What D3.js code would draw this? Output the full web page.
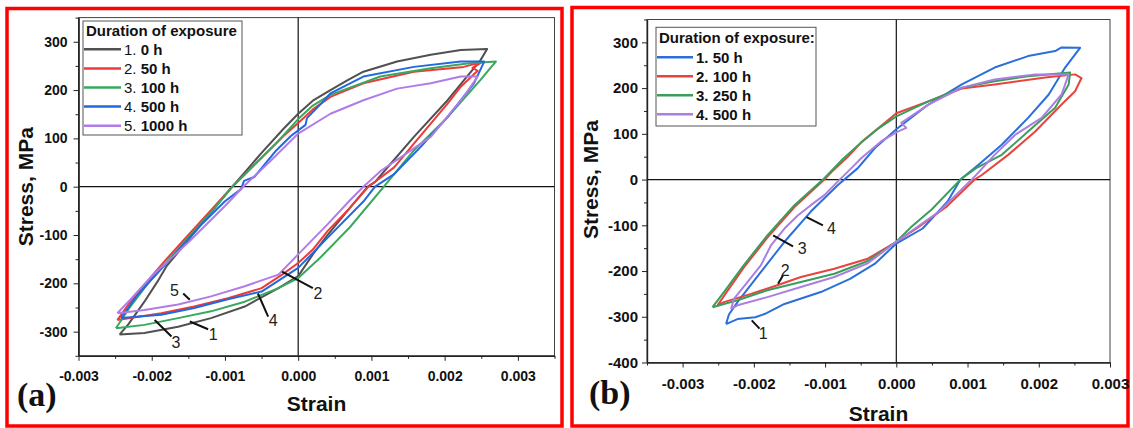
<!DOCTYPE html>
<html>
<head>
<meta charset="utf-8">
<script src="https://cdn.jsdelivr.net/npm/d3@7"></script>
<style>
  body { margin: 0; background: #fff; }
  text { font-family: "Liberation Sans", Arial, sans-serif; }
</style>
</head>
<body>
<svg id="chart" width="1133" height="428"></svg>
<script>
// Cyclic stress-strain hysteresis loops, two panels (a) and (b)

// ---- ticks ----
const xTicks = [-0.003, -0.002, -0.001, 0, 0.001, 0.002, 0.003];
const xMinorA = [-0.0025, -0.0015, -0.0005, 0.0005, 0.0015, 0.0025, 0.0035];
const xMinorB = [-0.0035, -0.0025, -0.0015, -0.0005, 0.0005, 0.0015, 0.0025];
const yTicksA = [-300, -200, -100, 0, 100, 200, 300];
const yMinorA = [-350, -250, -150, -50, 50, 150, 250, 350];
const yTicksB = [-400, -300, -200, -100, 0, 100, 200, 300];
const yMinorB = [-350, -250, -150, -50, 50, 150, 250, 350];

// ---- legend labels ----
const namesA = ["0 h", "50 h", "100 h", "500 h", "1000 h"];
const namesB = ["50 h", "100 h", "250 h", "500 h"];

// ---- panel (a) loops: [strain, stress MPa] ----
const loopA0 = [[-0.00244,-306],[-0.00232,-285],[-0.0021,-238],[-0.00192,-196],[-0.0018,-165],[-0.0015,-110],
  [-0.0012,-55],[-0.0009,0],[-0.0007,35],[-0.0005,70],[-0.0002,120],[0,151],[0.0002,178],[0.00044,200],
  [0.00067,220],[0.00089,238],[0.00135,259],[0.00181,273],[0.00222,283],[0.00258,285],[0.00249,262],
  [0.00204,179],[0.00158,103],[0.00126,47],[0.00105,10],[0.00095,0],[0.0007,-45],[0.0004,-100],
  [0.0002,-140],[0,-185],[-0.00027,-210],[-0.00073,-248],[-0.00119,-272],[-0.00164,-290],[-0.0021,-303],[-0.00244,-306]];
const loopA50 = [[-0.00247,-276],[-0.0023,-240],[-0.002,-185],[-0.0018,-150],[-0.0015,-100],[-0.0012,-50],
  [-0.0009,0],[-0.0007,30],[-0.0005,60],[-0.0002,105],[0,132],[0.0002,160],[0.00044,186],[0.00089,214],
  [0.00158,238],[0.00226,248],[0.00251,258],[0.00238,246],[0.00245,240],[0.00222,207],[0.00204,172],
  [0.00185,138],[0.00158,89],[0.00131,40],[0.00096,0],[0.0007,-45],[0.0004,-92],[0.0002,-130],[0,-158],
  [-0.0002,-180],[-0.0005,-210],[-0.00096,-231],[-0.00142,-248],[-0.00187,-262],[-0.00247,-276]];
const loopA100 = [[-0.00249,-293],[-0.0023,-250],[-0.002,-190],[-0.0015,-105],[-0.0012,-55],[-0.0009,0],
  [-0.0006,45],[-0.0003,90],[0,140],[0.0002,168],[0.00044,190],[0.00112,228],[0.00181,245],[0.00231,255],
  [0.0027,259],[0.00262,245],[0.00249,221],[0.00204,144],[0.00158,75],[0.00131,26],[0.00117,0],
  [0.0007,-85],[0.0003,-147],[0,-189],[-0.00027,-210],[-0.00073,-238],[-0.00119,-258],[-0.00164,-272],
  [-0.0021,-286],[-0.00249,-293]];
const loopA500 = [[-0.00242,-272],[-0.0022,-225],[-0.0019,-175],[-0.0016,-125],[-0.0013,-75],[-0.001,-30],
  [-0.00078,-5],[-0.00074,12],[-0.0006,20],[-0.0003,75],[-0.0001,105],[0.0001,128],[0.00012,142],
  [0.0003,170],[0.00044,193],[0.00089,228],[0.00158,248],[0.00222,259],[0.00254,259],[0.0024,214],
  [0.00204,144],[0.00167,82],[0.00131,26],[0.00105,0],[0.0009,-29],[0.0004,-106],[0,-168],[-0.0005,-217],
  [-0.00096,-233],[-0.00142,-251],[-0.00187,-265],[-0.00242,-272]];
const loopA1000 = [[-0.00247,-262],[-0.0023,-235],[-0.002,-185],[-0.0015,-115],[-0.001,-40],[-0.00075,0],
  [-0.0004,50],[0,110],[0.00044,151],[0.00089,179],[0.00135,203],[0.00181,214],[0.00222,228],[0.00245,228],
  [0.00226,186],[0.00181,103],[0.00113,33],[0.00089,0],[0.0007,-29],[0.0004,-78],[0,-140],[-0.00027,-182],
  [-0.00073,-206],[-0.00119,-227],[-0.00164,-244],[-0.0021,-255],[-0.00247,-262]];

// ---- panel (b) loops ----
const loopB50 = [[-0.00239,-316],[-0.00235,-295],[-0.00223,-268],[-0.0019,-202],[-0.00157,-136],[-0.0012,-70],
  [-0.00082,-12],[-0.00054,25],[-0.0003,69],[0,110],[0.00045,164],[0.00092,208],[0.00138,245],[0.00185,270],
  [0.00223,281],[0.00232,289],[0.00258,288],[0.00237,245],[0.00214,186],[0.00185,135],[0.00148,76],
  [0.00115,32],[0.0009,0],[0.00072,-48],[0.00037,-107],[0,-140],[-0.0003,-184],[-0.00065,-217],
  [-0.00106,-246],[-0.00157,-272],[-0.00185,-294],[-0.00198,-301],[-0.00223,-305],[-0.00239,-316]];
const loopB100 = [[-0.00251,-275],[-0.0024,-250],[-0.00214,-192],[-0.00181,-127],[-0.00143,-60],[-0.00101,0],
  [-0.0009,18],[-0.00068,50],[-0.00049,82],[-0.00016,124],[0,145],[0.00045,171],[0.00092,199],[0.00138,208],
  [0.00209,223],[0.00251,230],[0.0026,222],[0.00251,193],[0.00232,164],[0.00195,105],[0.00157,54],
  [0.0012,10],[0.0011,0],[0.0007,-60],[0.0003,-105],[0,-136],[-0.0004,-173],[-0.00087,-195],[-0.00134,-213],
  [-0.00167,-231],[-0.00204,-250],[-0.00242,-268],[-0.00251,-275]];
const loopB250 = [[-0.00258,-279],[-0.00242,-246],[-0.00214,-187],[-0.00181,-122],[-0.00143,-56],[-0.00101,3],
  [-0.00075,45],[-0.0005,80],[-0.00025,112],[0,138],[0.00045,171],[0.00092,201],[0.00138,215],[0.00185,226],[0.00244,234],
  [0.00242,208],[0.00223,157],[0.00185,105],[0.00148,54],[0.00112,25],[0.0009,0],[0.0005,-65],[0.0002,-105],
  [0,-136],[-0.0004,-178],[-0.00087,-206],[-0.00134,-224],[-0.00181,-242],[-0.00223,-264],[-0.00258,-279]];
const loopB500 = [[-0.00232,-283],[-0.00228,-261],[-0.00209,-224],[-0.0019,-187],[-0.00176,-144],[-0.00157,-107],
  [-0.00138,-78],[-0.0012,-56],[-0.00101,-34],[-0.00082,-4],[-0.00063,25],[-0.00049,47],[-0.00021,84],
  [0.00002,105],[0.00014,113],[0.00007,124],[0.00045,164],[0.00092,201],[0.00138,219],[0.00195,230],
  [0.00242,230],[0.00232,186],[0.00204,135],[0.00167,98],[0.00138,54],[0.00106,0],[0.0006,-70],[0,-136],
  [-0.0004,-183],[-0.00087,-213],[-0.00134,-235],[-0.00181,-257],[-0.00223,-275],[-0.00232,-283]];

// ---- curve callouts: label, text at [strain, stress], leader from/to ----
const calloutsA = [
  ["5", [-0.00169,-214], [-0.00157,-221], [-0.00148,-234]],
  ["3", [-0.00167,-321], [-0.00196,-276], [-0.00173,-310]],
  ["1", [-0.00116,-305], [-0.00148,-279], [-0.00123,-295]],
  ["4", [-0.00034,-276], [-0.00055,-221], [-0.00041,-269]],
  ["2", [0.00027,-220], [-0.00022,-176], [0.0002,-210]]
];
const calloutsB = [
  ["4", [-0.00091,-107], [-0.00126,-82], [-0.00103,-100]],
  ["3", [-0.00132,-151], [-0.00173,-122], [-0.00145,-146]],
  ["2", [-0.00156,-199], [-0.00166,-228], [-0.00159,-209]],
  ["1", [-0.00187,-337], [-0.00203,-308], [-0.00192,-326]]
];

const svg = d3.select("#chart");

function drawPanel(p) {
  const g = svg.append("g");

  // red outline round the panel
  g.append("rect")
    .attr("x", p.frame[0]).attr("y", p.frame[1])
    .attr("width", p.frame[2]).attr("height", p.frame[3])
    .attr("fill", "none").attr("stroke", "#f00").attr("stroke-width", 3.5);

  const x = d3.scaleLinear().domain(p.xDomain).range([p.left, p.right]);
  const y = d3.scaleLinear().domain(p.yDomain).range([p.bottom, p.top]);

  // plot box
  g.append("rect")
    .attr("x", p.left).attr("y", p.top)
    .attr("width", p.right - p.left).attr("height", p.bottom - p.top)
    .attr("fill", "none").attr("stroke", "#444").attr("stroke-width", 1);

  // zero lines
  g.append("line")
    .attr("x1", x(0)).attr("x2", x(0)).attr("y1", p.top).attr("y2", p.bottom)
    .attr("stroke", "#111").attr("stroke-width", 1.2);
  g.append("line")
    .attr("x1", p.left).attr("x2", p.right).attr("y1", y(0)).attr("y2", y(0))
    .attr("stroke", "#111").attr("stroke-width", 1.2);

  // axes
  const styleAxis = (sel) => {
    sel.attr("font-family", null).attr("font-size", p.tickFont).attr("color", "#222");
    sel.selectAll("text").style("font-weight", "bold").attr("fill", "#111");
    sel.select(".domain").attr("stroke-width", 1.2);
  };
  g.append("g").attr("transform", `translate(0,${p.bottom})`)
    .call(d3.axisBottom(x).tickValues(p.xMinor).tickFormat("").tickSize(3).tickSizeOuter(0))
    .call(styleAxis);
  g.append("g").attr("transform", `translate(0,${p.bottom})`)
    .call(d3.axisBottom(x).tickValues(xTicks).tickFormat((d) => d.toFixed(3))
      .tickSize(5).tickSizeOuter(0).tickPadding(p.xPad))
    .call(styleAxis);
  g.append("g").attr("transform", `translate(${p.left},0)`)
    .call(d3.axisLeft(y).tickValues(p.yMinor).tickFormat("").tickSize(3).tickSizeOuter(0))
    .call(styleAxis);
  g.append("g").attr("transform", `translate(${p.left},0)`)
    .call(d3.axisLeft(y).tickValues(p.yTicks).tickFormat((d) => String(d))
      .tickSize(5).tickSizeOuter(0).tickPadding(p.yPad))
    .call(styleAxis);

  // loops
  const line = d3.line().x((d) => x(d[0])).y((d) => y(d[1]));
  p.loops.forEach((loop, i) => {
    g.append("path")
      .attr("d", line(loop))
      .attr("fill", "none")
      .attr("stroke", p.colors[i])
      .attr("stroke-width", 2)
      .attr("stroke-linejoin", "round");
  });

  // callouts
  p.callouts.forEach(([label, at, from, to]) => {
    g.append("line")
      .attr("x1", x(from[0])).attr("y1", y(from[1]))
      .attr("x2", x(to[0])).attr("y2", y(to[1]))
      .attr("stroke", "#111").attr("stroke-width", 2);
    g.append("text")
      .attr("x", x(at[0])).attr("y", y(at[1]))
      .attr("dy", "0.36em").attr("text-anchor", "middle")
      .attr("font-size", 16).attr("fill", "#222")
      .text(label);
  });

  // legend
  const L = p.legend;
  g.append("rect")
    .attr("x", L.x).attr("y", L.y).attr("width", L.w).attr("height", L.h)
    .attr("fill", "#fff").attr("stroke", "#555").attr("stroke-width", 1);
  g.append("text")
    .attr("x", L.x + 3).attr("y", L.titleY)
    .attr("font-size", 15).attr("font-weight", "bold").attr("fill", "#111")
    .text(L.title);
  p.names.forEach((name, i) => {
    const ly = L.rowY + i * L.rowStep;
    g.append("line")
      .attr("x1", L.x + 1).attr("x2", L.x + L.lineW)
      .attr("y1", ly).attr("y2", ly)
      .attr("stroke", p.colors[i]).attr("stroke-width", 2.5);
    const t = g.append("text")
      .attr("x", L.x + L.lineW + 3).attr("y", ly + 5.5)
      .attr("font-size", 15).attr("fill", "#111");
    t.append("tspan").attr("font-weight", L.numBold ? "bold" : "normal").text(`${i + 1}. `);
    t.append("tspan").attr("font-weight", "bold").text(name);
  });

  // axis titles and panel letter
  g.append("text")
    .attr("x", (p.left + p.right) / 2 + p.xTitleShift).attr("y", p.xTitleY)
    .attr("text-anchor", "middle").attr("font-size", 21).attr("font-weight", "bold")
    .attr("fill", "#111").text("Strain");
  g.append("text")
    .attr("transform", `translate(${p.yTitleX},${y(0)}) rotate(-90)`)
    .attr("text-anchor", "middle").attr("font-size", 21).attr("font-weight", "bold")
    .attr("fill", "#111").text("Stress, MPa");
  g.append("text")
    .attr("x", p.letter[0]).attr("y", p.letter[1])
    .style("font-family", "'Liberation Serif', 'Times New Roman', serif")
    .attr("font-size", 34).attr("font-weight", "bold").attr("fill", "#111")
    .text(p.letterText);
}

drawPanel({
  frame: [7, 8.5, 555, 417.5],
  left: 78.5, right: 554.5, top: 17.6, bottom: 355.8,
  xDomain: [-0.003, 0.0035], yDomain: [-350, 350],
  xMinor: xMinorA, yTicks: yTicksA, yMinor: yMinorA,
  tickFont: 14, xPad: 10, yPad: 6,
  loops: [loopA0, loopA50, loopA100, loopA500, loopA1000],
  colors: ["#505050", "#ee3a3a", "#38a85c", "#2169de", "#b07de8"],
  callouts: calloutsA,
  names: namesA,
  legend: { x: 83, y: 21, w: 159, h: 114, title: "Duration of exposure",
    titleY: 36, rowY: 49.3, rowStep: 19.1, lineW: 38, numBold: false },
  xTitleShift: 0, xTitleY: 411, yTitleX: 33,
  letter: [17, 406], letterText: "(a)"
});

drawPanel({
  frame: [572, 7.5, 556, 418.5],
  left: 647, right: 1110, top: 19.5, bottom: 362.5,
  xDomain: [-0.0035, 0.003], yDomain: [-400, 350],
  xMinor: xMinorB, yTicks: yTicksB, yMinor: yMinorB,
  tickFont: 15, xPad: 11, yPad: 4,
  loops: [loopB50, loopB100, loopB250, loopB500],
  colors: ["#2a6fdb", "#e8443c", "#3a9d5d", "#ab7fe0"],
  callouts: calloutsB,
  names: namesB,
  legend: { x: 656, y: 27.3, w: 160, h: 98.7, title: "Duration of exposure:",
    titleY: 43, rowY: 57.3, rowStep: 19, lineW: 37, numBold: true },
  xTitleShift: 0, xTitleY: 421, yTitleX: 598,
  letter: [589, 404], letterText: "(b)"
});
</script>
</body>
</html>
